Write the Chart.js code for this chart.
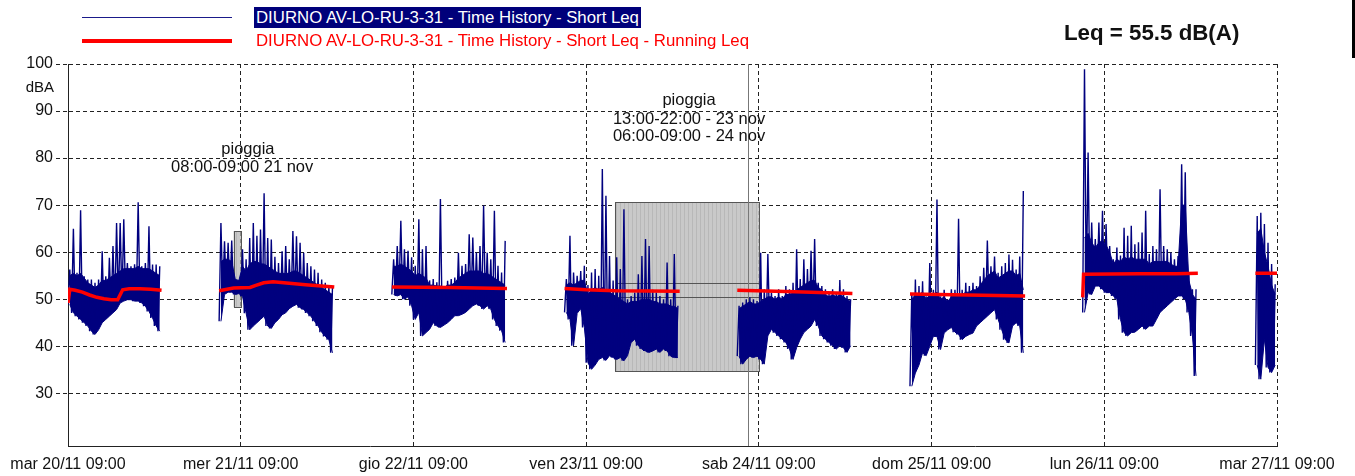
<!DOCTYPE html>
<html>
<head>
<meta charset="utf-8">
<script src="https://cdn.jsdelivr.net/npm/chart.js@4.4.1/dist/chart.umd.min.js"></script>
<style>
  body{margin:0;background:#fff;font-family:"Liberation Sans",Arial,sans-serif;}
  #wrap{position:relative;width:1355px;height:476px;overflow:hidden;}
  #c{position:absolute;left:0;top:0;}
  .lg{position:absolute;white-space:nowrap;font-size:16.8px;line-height:21px;}
</style>
</head>
<body>
<div id="wrap">
  <canvas id="c" width="1355" height="476"></canvas>
  <div style="position:absolute;left:82px;top:17px;width:150px;height:1px;background:#1a1a8a"></div>
  <div class="lg" style="left:254px;top:7px;background:#00007a;color:#fff;padding:0 2px">DIURNO AV-LO-RU-3-31 - Time History - Short Leq</div>
  <div style="position:absolute;left:82px;top:39px;width:150px;height:4px;background:#f00"></div>
  <div class="lg" style="left:256px;top:30px;color:#f00">DIURNO AV-LO-RU-3-31 - Time History - Short Leq - Running Leq</div>
  <div style="position:absolute;left:1064px;top:20px;font-size:22.3px;font-weight:bold;color:#111">Leq = 55.5 dB(A)</div>
  <div style="position:absolute;left:1352px;top:0;width:3px;height:58px;background:#000"></div>
</div>
<script>
// x axis: hours since mar 20/11 09:00
const xTickLabels = ['mar 20/11 09:00','mer 21/11 09:00','gio 22/11 09:00','ven 23/11 09:00',
  'sab 24/11 09:00','dom 25/11 09:00','lun 26/11 09:00','mar 27/11 09:00'];
const yTickValues = [30,40,50,60,70,80,90,100];

// start hour of each daytime block
const segStarts = [0, 21, 45, 69, 93, 117, 141, 165];

// Short Leq per 30 min: peak, top of the dense band, minimum
const seg1Hi = [56.3,65,55.6,68.9,54.9,54.2,54.2,53.5,54.2,60.2,54.9,58.8,61.3,66.2,66.2,67,57.7,57,57.4,70.6,57,57.7,65.5,57.4,57.4,57];
const seg1Core = [55,55.5,55,55.5,54.5,53.5,53,52.5,53,54,54,54.5,55,55.5,56,56.5,56.5,56.5,56.5,57,56.5,56.5,56.5,56,55.5,55];
const seg1Lo = [48.9,47.1,46.4,45.7,45,44.3,43.2,42.5,43.5,45,45.7,46.4,47.1,47.8,49.2,49.6,49.9,49.9,49.6,49.6,49.2,48.5,47.4,46,44.3,43.2];
const seg2Hi = [66.2,62.3,62,62.5,54.2,54,60.6,58.5,63,66.2,63.5,64.8,72.5,63,62.7,59,57.7,60.2,61.3,58.5,64.5,63.4,62,59.9,57.7,57,56.3,55.6,54.2,53.5,53,52.5];
const seg2Core = [58,58.5,58.5,58,54.2,54,57,56,57.5,58,58,57.5,57.5,57,56.5,56,55.5,55.5,55.5,55.5,56,56,55.5,55,54.5,54,53.5,53,52.5,52,51.5,51];
const seg2Lo = [45.3,51,51.5,51.5,51,51.2,50.6,47,43.5,44.3,45,45.7,46.4,44.3,43.8,45,45.7,46.7,47.1,48,48.5,48.9,48.2,47.8,47.1,46.4,45.3,44.3,43,42.1,41.4,38.6];
const seg3Hi = [58.5,61.3,66.7,60.6,60.3,58.9,57.1,67,60.6,61.3,54,54.3,53.6,71.3,52.8,53.9,54.3,54.6,59.9,57.1,57.5,63.8,63.1,59.9,61.3,69.9,59.9,58.5,68.8,57.1,55.7,62.4];
const seg3Core = [57,57,57.5,57,56.5,56,55,55.5,55,54.5,53,53,52.8,52.8,52.5,53,53,53.5,54.5,55,55.5,56,56,56,56,55.5,55.5,55,54.5,54,53.5,53];
const seg3Lo = [51,50.7,51,50,50.5,48.6,45.7,47.2,42.2,42.9,43.6,45,44.3,44,44.5,45,45.7,46.5,46.5,46.8,47.2,47.9,48.6,49,48.6,47.9,48.6,47.9,45.7,44.3,43.3,40.8];
const seg4Hi = [54.3,63.5,55.7,55,56,57.1,53,55.7,56.4,55,77.7,72,59.2,54,58.9,56.4,69.1,50,50.7,51.4,55.3,59.2,62.8,61.3,52,51.4,50.7,50,57.8,50,59.6,48.6];
const seg4Core = [53,53.5,53,53.5,54,54,51,52,52.5,52,52.5,52,51.5,51,50.5,50,49.5,49,49.5,49.5,49.5,50,50,50,49.5,49.5,49,49,49,48.5,48.5,48];
const seg4Lo = [47.2,45.7,40.1,47,48,44,36.5,35.1,36,37.2,37.6,37,38,37.6,37.2,37.6,36.9,38,40.8,41.5,40.1,39.4,39,38.7,39,39.4,38.7,39.4,39,37.9,37.6,37.6];
const seg5Hi = [48.6,49.3,50,50.4,50,49.6,59.9,52.1,59.6,51.4,50.7,52.1,50.7,52.8,52.1,53.5,60.6,54.3,58.5,56.4,60.3,62.8,53.5,52.8,52.1,51.4,52.1,51.4,54.1,52.1,50.7,50];
const seg5Core = [48,48.5,49,49.5,49,49,49.5,50,50.5,50.5,50,50.5,50,51,51,51.5,52,52.5,53,53.5,54,54,52.5,52,51,50.5,51,50.5,51,50.5,50,49.5];
const seg5Lo = [37.9,36.2,37.2,37.9,37.6,37.9,37.2,36.2,42.2,43.6,42.9,42.2,41.5,40.8,39.4,37.2,39.7,41.5,42.9,43.6,44.3,45.7,44.3,42.2,41.5,40.8,40.1,39.4,40.1,39.7,38.7,40.1];
const seg6Hi = [51.3,54.2,52.8,53.8,50.6,57.7,52,71.2,50.6,52,49.9,52.1,52,67.1,52,53.5,52.8,53.5,52.8,54.9,56.7,62.5,57,59.1,55.6,57,57.7,59.5,58.4,56.3,59.1,73];
const seg6Core = [50,51,51,51.5,50,51,51,51.5,50,50.5,49.5,50.5,51,51,51,51.5,51.5,52,52,53,54,55,55.5,56,54.5,55,55.5,56,56,55,55.5,52];
const seg6Lo = [31.5,34.3,36,38.6,38,40,42.1,42.1,39.3,42.8,43.5,44,43,42.5,41.4,42.1,42.5,42.8,44.3,45,45.7,46.4,47.1,47.8,45.7,43.5,41.4,40.7,44.3,45,44.3,38.6];
const seg7Hi = [98.9,81.2,66.3,62.8,66.3,68.8,66,61.3,58.5,61,59.3,65.2,63.5,65.6,61.7,62.1,64.2,68.8,59.6,61.3,60.6,73.4,61.3,60.6,59.9,58.5,59.2,78.7,77,55.7,52.1,52.1];
const seg7Core = [63,64,62,61,62,62.5,61.5,60,57.5,58.5,58,59,58.5,59,58.5,58.5,58.5,58.5,57.5,58,58,58,58,58,57.5,57,57,70,70,54,51,50];
const seg7Lo = [47.2,51.4,51,52.8,52.8,52.1,51.4,51.4,50.7,50,45.7,42.9,42.2,42.9,43,43.6,44.3,43.6,44.3,44.3,45.7,47.2,47.9,48.6,49.3,50,50.7,50.7,50,47.2,42.2,33.7];
const seg8Hi = [67.7,68.4,66,62,57.5,53.2];
const seg8Core = [64,65,60,57,53,51];
const seg8Lo = [36,33,41.5,35.5,34.4,36];

// Running Leq, [hours from block start, dB]
const seg1Red = [[0,49.2],[0.25,52.1],[1,51.9],[2,51.5],[3,50.9],[4,50.4],[5,50.1],[6,49.9],[6.9,49.9],[7.6,52],[8.5,52.2],[10,52.2],[11.5,52.1],[13,51.9]];
const seg2Red = [[0,51.8],[2,52.4],[4.3,52.5],[5,52.9],[6.2,53.5],[7.5,53.7],[9,53.5],[12,53.1],[16,52.6]];
const seg3Red = [[0,52.6],[8,52.5],[16,52.3]];
const seg4Red = [[0,52.3],[3,52],[7,51.8],[16,51.7]];
const seg5Red = [[0,51.9],[8,51.6],[16,51.2]];
const seg6Red = [[0,51.1],[8,50.9],[16,50.7]];
const seg7Red = [[0,50.4],[0.12,55.3],[8,55.4],[13,55.4],[16,55.5]];
const seg8Red = [[0,55.5],[3,55.5]];

// rain periods (hours, dB) and marker
const rainRects = [[23,24,48.3,64.5],[76,96,34.7,70.6]];
const rainBand = [76,96,50.4,53.4];
const cursorHour = 94.5;
const rainNotes = [
  [25.0,81.8,'pioggia'],[24.2,78.0,'08:00-09:00 21 nov'],
  [86.3,92.2,'pioggia'],[86.3,88.3,'13:00-22:00 - 23 nov'],[86.3,84.5,'06:00-09:00 - 24 nov']
];

const blueHi = [seg1Hi,seg2Hi,seg3Hi,seg4Hi,seg5Hi,seg6Hi,seg7Hi,seg8Hi];
const blueCore = [seg1Core,seg2Core,seg3Core,seg4Core,seg5Core,seg6Core,seg7Core,seg8Core];
const blueLo = [seg1Lo,seg2Lo,seg3Lo,seg4Lo,seg5Lo,seg6Lo,seg7Lo,seg8Lo];
const redSegs = [seg1Red,seg2Red,seg3Red,seg4Red,seg5Red,seg6Red,seg7Red,seg8Red];

// zigzag lo -> peak for the spikes
function spikePoints(){
  const pts = [];
  segStarts.forEach((h0,s)=>{
    const hi = blueHi[s], lo = blueLo[s];
    for(let i=0;i<hi.length;i++){
      pts.push({x:h0+i*0.5, y:lo[i]});
      pts.push({x:h0+i*0.5+0.25, y:hi[i]});
    }
    pts.push({x:h0+hi.length*0.5, y:null});
  });
  return pts;
}
// band edges, one point per bin
function bandPoints(arrs){
  const pts = [];
  segStarts.forEach((h0,s)=>{
    const v = arrs[s];
    for(let i=0;i<v.length;i++) pts.push({x:h0+i*0.5+0.25, y:v[i]});
    pts.push({x:h0+v.length*0.5, y:null});
  });
  return pts;
}
function redPoints(){
  const pts = [];
  segStarts.forEach((h0,s)=>{
    redSegs[s].forEach(p=> pts.push({x:h0+p[0], y:p[1]}));
    const last = redSegs[s][redSegs[s].length-1];
    pts.push({x:h0+last[0]+0.01, y:null});
  });
  return pts;
}

function hatch(ctx){
  const c = document.createElement('canvas');
  c.width = 4; c.height = 4;
  const g = c.getContext('2d');
  g.fillStyle = '#c9c9c9'; g.fillRect(0,0,4,4);
  g.fillStyle = '#b8b8b8'; g.fillRect(0,0,1,4);
  return ctx.createPattern(c,'repeat');
}

const shapes = {
  id:'shapes',
  beforeDatasetsDraw(chart){
    const {ctx, scales:{x,y}, chartArea:a} = chart;
    ctx.save();
    const pat = hatch(ctx);
    rainRects.forEach(r=>{
      const l = x.getPixelForValue(r[0]), rr = x.getPixelForValue(r[1]);
      const t = y.getPixelForValue(r[3]), b = y.getPixelForValue(r[2]);
      ctx.fillStyle = pat; ctx.fillRect(l,t,rr-l,b-t);
      ctx.strokeStyle = '#555'; ctx.lineWidth = 1;
      ctx.strokeRect(Math.round(l)+0.5,Math.round(t)+0.5,Math.round(rr-l),Math.round(b-t));
    });
    const bl = x.getPixelForValue(rainBand[0]), br = x.getPixelForValue(rainBand[1]);
    const bt = y.getPixelForValue(rainBand[3]), bb = y.getPixelForValue(rainBand[2]);
    ctx.strokeStyle = '#555';
    ctx.strokeRect(Math.round(bl)+0.5,Math.round(bt)+0.5,Math.round(br-bl),Math.round(bb-bt));
    const cx = Math.round(x.getPixelForValue(cursorHour))+0.5;
    ctx.strokeStyle = '#777';
    ctx.beginPath(); ctx.moveTo(cx,a.top); ctx.lineTo(cx,a.bottom); ctx.stroke();
    ctx.restore();
  },
  afterDraw(chart){
    const {ctx, scales:{x,y}} = chart;
    ctx.save();
    ctx.fillStyle = '#111';
    ctx.font = '16.5px "Liberation Sans", Arial, sans-serif';
    ctx.textAlign = 'center'; ctx.textBaseline = 'middle';
    rainNotes.forEach(n=> ctx.fillText(n[2], x.getPixelForValue(n[0]), y.getPixelForValue(n[1])));
    ctx.font = '15px "Liberation Sans", Arial, sans-serif';
    ctx.textAlign = 'right';
    ctx.fillText('dBA', y.left + y.width - 14, y.getPixelForValue(95));
    ctx.restore();
  }
};

const navy = '#00007f';
const dash = [4,3];
new Chart(document.getElementById('c'), {
  type:'line',
  data:{ datasets:[
    { label:'DIURNO AV-LO-RU-3-31 - Time History - Short Leq - Running Leq', data:redPoints(),
      borderColor:'#ff0000', borderWidth:3.5, pointRadius:0, order:0 },
    { label:'DIURNO AV-LO-RU-3-31 - Time History - Short Leq', data:spikePoints(),
      borderColor:navy, borderWidth:1.4, borderJoinStyle:'bevel', pointRadius:0, order:1 },
    { label:'lo', data:bandPoints(blueLo), borderColor:navy, borderWidth:1,
      pointRadius:0, fill:false, order:2 },
    { label:'core', data:bandPoints(blueCore), borderColor:navy, borderWidth:1,
      backgroundColor:navy, pointRadius:0, fill:'-1', order:3 }
  ]},
  options:{
    responsive:false, animation:false, devicePixelRatio:1,
    spanGaps:false,
    layout:{ padding:{ top:64, right:78, left:0, bottom:0 } },
    elements:{ line:{ tension:0 } },
    plugins:{ legend:{display:false}, tooltip:{enabled:false} },
    scales:{
      x:{ type:'linear', min:0, max:168,
        afterBuildTicks: s=>{ s.ticks = xTickLabels.map((_,i)=>({value:i*24})); },
        afterFit: s=>{ s.height = 30; },
        ticks:{ autoSkip:false, maxRotation:0, color:'#111', padding:9,
          font:{ family:'"Liberation Sans", Arial, sans-serif', size:16 },
          callback: v=> xTickLabels[Math.round(v/24)] },
        grid:{ color:'#222', lineWidth:1, tickLength:0, borderDash:dash },
        border:{ display:true, color:'#222', dash:dash }
      },
      y:{ type:'linear', min:18.8, max:100,
        afterBuildTicks: s=>{ s.ticks = yTickValues.map(v=>({value:v})); },
        afterFit: s=>{ s.width = 68; },
        ticks:{ color:'#111', padding:3,
          font:{ family:'"Liberation Sans", Arial, sans-serif', size:16 } },
        grid:{ color:'#222', lineWidth:1, tickLength:12, borderDash:dash, tickBorderDash:dash },
        border:{ display:true, color:'#222', dash:dash }
      }
    }
  },
  plugins:[shapes]
});
</script>
</body>
</html>
